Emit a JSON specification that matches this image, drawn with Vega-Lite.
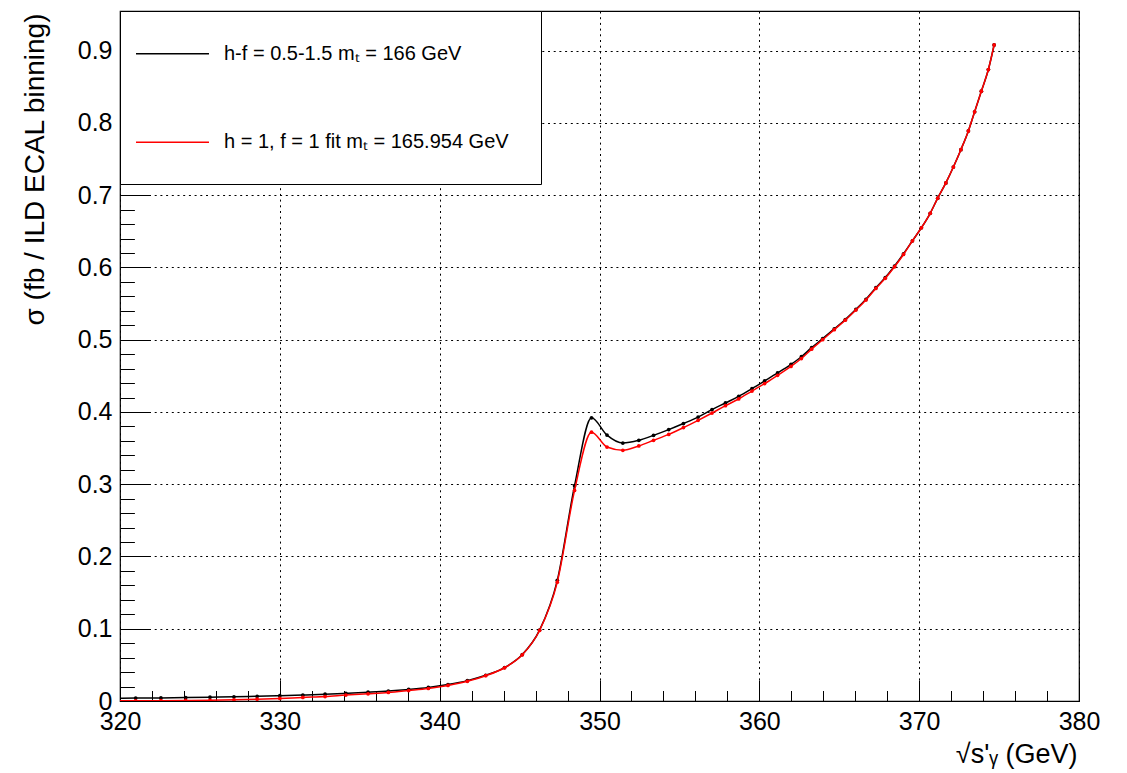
{
  "$schema": "https://vega.github.io/schema/vega-lite/v6.json",
  "width": 959,
  "height": 690,
  "autosize": {"type": "none"},
  "padding": {"left": 120, "top": 11, "right": 48, "bottom": 72},
  "background": "white",
  "config": {
    "font": "Liberation Sans",
    "view": {"stroke": "black", "strokeWidth": 1.2},
    "axis": {"domain": false, "labelColor": "black", "titleColor": "black", "tickColor": "black", "labelFont": "Liberation Sans", "titleFont": "Liberation Sans", "titleFontWeight": "normal"},
    "legend": {
      "orient": "none", "legendX": 0, "legendY": 0,
      "fillColor": "white", "strokeColor": "black", "padding": 31.75,
      "symbolType": "M-3.561,0H3.561", "symbolSize": 420, "symbolStrokeWidth": 1.5,
      "symbolOffset": 9.75, "labelOffset": 40.5, "rowPadding": 67.5,
      "labelFontSize": 20, "labelFont": "Liberation Sans", "labelColor": "black", "labelLimit": 0
    }
  },
  "data": {"values": [
    {"x":319.38,"y":0.0038,"c":"A"},{"x":320.98,"y":0.004,"c":"A"},{"x":322.56,"y":0.0043,"c":"A"},{"x":324.11,"y":0.0047,"c":"A"},{"x":325.63,"y":0.0052,"c":"A"},{"x":327.13,"y":0.0058,"c":"A"},{"x":328.58,"y":0.0065,"c":"A"},{"x":330.0,"y":0.0073,"c":"A"},{"x":331.44,"y":0.0083,"c":"A"},{"x":332.83,"y":0.0094,"c":"A"},{"x":334.13,"y":0.0107,"c":"A"},{"x":335.52,"y":0.0122,"c":"A"},{"x":336.79,"y":0.0138,"c":"A"},{"x":338.06,"y":0.016,"c":"A"},{"x":339.29,"y":0.0187,"c":"A"},{"x":340.52,"y":0.0228,"c":"A"},{"x":341.73,"y":0.0282,"c":"A"},{"x":342.88,"y":0.0356,"c":"A"},{"x":344.06,"y":0.0462,"c":"A"},{"x":345.17,"y":0.0642,"c":"A"},{"x":346.25,"y":0.098,"c":"A"},{"x":347.36,"y":0.167,"c":"A"},{"x":348.44,"y":0.298,"c":"A"},{"x":349.5,"y":0.392,"c":"A"},{"x":350.47,"y":0.368,"c":"A"},{"x":351.46,"y":0.357,"c":"A"},{"x":352.46,"y":0.3608,"c":"A"},{"x":353.38,"y":0.3677,"c":"A"},{"x":354.33,"y":0.3756,"c":"A"},{"x":355.25,"y":0.384,"c":"A"},{"x":356.17,"y":0.393,"c":"A"},{"x":357.04,"y":0.4033,"c":"A"},{"x":357.88,"y":0.4125,"c":"A"},{"x":358.71,"y":0.4217,"c":"A"},{"x":359.54,"y":0.4324,"c":"A"},{"x":360.33,"y":0.443,"c":"A"},{"x":361.14,"y":0.454,"c":"A"},{"x":361.98,"y":0.466,"c":"A"},{"x":362.63,"y":0.4765,"c":"A"},{"x":363.27,"y":0.489,"c":"A"},{"x":363.96,"y":0.5015,"c":"A"},{"x":364.69,"y":0.515,"c":"A"},{"x":365.38,"y":0.528,"c":"A"},{"x":366.04,"y":0.542,"c":"A"},{"x":366.67,"y":0.556,"c":"A"},{"x":367.29,"y":0.572,"c":"A"},{"x":367.88,"y":0.586,"c":"A"},{"x":368.46,"y":0.602,"c":"A"},{"x":369.02,"y":0.619,"c":"A"},{"x":369.58,"y":0.637,"c":"A"},{"x":370.14,"y":0.655,"c":"A"},{"x":370.69,"y":0.675,"c":"A"},{"x":371.16,"y":0.696,"c":"A"},{"x":371.67,"y":0.717,"c":"A"},{"x":372.14,"y":0.739,"c":"A"},{"x":372.61,"y":0.763,"c":"A"},{"x":373.08,"y":0.789,"c":"A"},{"x":373.47,"y":0.8155,"c":"A"},{"x":373.89,"y":0.844,"c":"A"},{"x":374.33,"y":0.874,"c":"A"},{"x":374.69,"y":0.908,"c":"A"},
    {"x":319.38,"y":0.0003,"c":"B"},{"x":320.98,"y":0.0003,"c":"B"},{"x":322.56,"y":0.0005,"c":"B"},{"x":324.11,"y":0.0007,"c":"B"},{"x":325.63,"y":0.001,"c":"B"},{"x":327.13,"y":0.0017,"c":"B"},{"x":328.58,"y":0.0025,"c":"B"},{"x":330.0,"y":0.0035,"c":"B"},{"x":331.44,"y":0.005,"c":"B"},{"x":332.83,"y":0.0062,"c":"B"},{"x":334.13,"y":0.0082,"c":"B"},{"x":335.52,"y":0.01,"c":"B"},{"x":336.79,"y":0.0118,"c":"B"},{"x":338.06,"y":0.0145,"c":"B"},{"x":339.29,"y":0.0173,"c":"B"},{"x":340.52,"y":0.0215,"c":"B"},{"x":341.73,"y":0.0272,"c":"B"},{"x":342.88,"y":0.035,"c":"B"},{"x":344.06,"y":0.046,"c":"B"},{"x":345.17,"y":0.064,"c":"B"},{"x":346.25,"y":0.0976,"c":"B"},{"x":347.36,"y":0.1645,"c":"B"},{"x":348.44,"y":0.2915,"c":"B"},{"x":349.5,"y":0.372,"c":"B"},{"x":350.47,"y":0.3515,"c":"B"},{"x":351.46,"y":0.347,"c":"B"},{"x":352.46,"y":0.353,"c":"B"},{"x":353.38,"y":0.3608,"c":"B"},{"x":354.33,"y":0.369,"c":"B"},{"x":355.25,"y":0.3784,"c":"B"},{"x":356.17,"y":0.3885,"c":"B"},{"x":357.04,"y":0.3986,"c":"B"},{"x":357.88,"y":0.4088,"c":"B"},{"x":358.71,"y":0.418,"c":"B"},{"x":359.54,"y":0.429,"c":"B"},{"x":360.33,"y":0.4393,"c":"B"},{"x":361.14,"y":0.4508,"c":"B"},{"x":361.98,"y":0.463,"c":"B"},{"x":362.63,"y":0.474,"c":"B"},{"x":363.27,"y":0.487,"c":"B"},{"x":363.96,"y":0.5,"c":"B"},{"x":364.69,"y":0.514,"c":"B"},{"x":365.38,"y":0.527,"c":"B"},{"x":366.04,"y":0.541,"c":"B"},{"x":366.67,"y":0.555,"c":"B"},{"x":367.29,"y":0.571,"c":"B"},{"x":367.88,"y":0.585,"c":"B"},{"x":368.46,"y":0.601,"c":"B"},{"x":369.02,"y":0.618,"c":"B"},{"x":369.58,"y":0.637,"c":"B"},{"x":370.14,"y":0.655,"c":"B"},{"x":370.69,"y":0.675,"c":"B"},{"x":371.16,"y":0.696,"c":"B"},{"x":371.67,"y":0.717,"c":"B"},{"x":372.14,"y":0.739,"c":"B"},{"x":372.61,"y":0.763,"c":"B"},{"x":373.08,"y":0.789,"c":"B"},{"x":373.47,"y":0.8155,"c":"B"},{"x":373.89,"y":0.844,"c":"B"},{"x":374.33,"y":0.874,"c":"B"},{"x":374.69,"y":0.908,"c":"B"}
  ]},
  "layer": [
    {
      "transform": [{"filter": "datum.c == 'A'"}],
      "mark": {"type": "line", "interpolate": "monotone", "strokeWidth": 1.5, "clip": true},
      "encoding": {
        "x": {"field": "x", "type": "quantitative",
          "scale": {"domain": [320, 380], "nice": false, "zero": false},
          "axis": {"orient": "bottom", "values": [320, 330, 340, 350, 360, 370, 380], "ticks": false, "labels": true,
            "labelFontSize": 25, "labelPadding": 8, "labelFlush": false, "labelOverlap": false, "labelBound": false,
            "grid": true, "gridColor": "black", "gridDash": [2, 3.7], "gridWidth": 1, "gridOpacity": 1,
            "title": "√s'ᵧ (GeV)", "titleFontSize": 27, "titleAnchor": "end", "titleAlign": "right",
            "titleBaseline": "alphabetic", "titleX": 957, "titleY": 61}},
        "y": {"field": "y", "type": "quantitative",
          "scale": {"domain": [0, 0.955], "nice": false, "zero": false},
          "axis": {"orient": "left", "values": [0, 0.1, 0.2, 0.3, 0.4, 0.5, 0.6, 0.7, 0.8, 0.9], "ticks": false,
            "labelFontSize": 25, "labelPadding": 8, "labelFlush": false, "labelOverlap": false, "labelBound": false,
            "labelExpr": "datum.value == 0 ? '0' : format(datum.value, '.1f')",
            "grid": true, "gridColor": "black", "gridDash": [2, 3.7], "gridWidth": 1, "gridOpacity": 1,
            "title": "σ (fb / ILD ECAL binning)", "titleFontSize": 28, "titleAngle": -90, "titleAlign": "right",
            "titleBaseline": "alphabetic", "titleX": -77, "titleY": 2}},
        "color": {"field": "c", "type": "nominal",
          "scale": {"domain": ["A", "B"], "range": ["#000000", "#ff0000"]},
          "legend": {"title": null,
            "labelExpr": "datum.label == 'A' ? 'h-f = 0.5-1.5 mₜ = 166 GeV' : 'h = 1, f = 1 fit mₜ = 165.954 GeV'"}}
      }
    },
    {
      "transform": [{"filter": "datum.c == 'A'"}],
      "mark": {"type": "point", "filled": true, "size": 14, "color": "#000000", "opacity": 1, "clip": true},
      "encoding": {
        "x": {"field": "x", "type": "quantitative",
          "axis": {"orient": "bottom", "values": [320, 330, 340, 350, 360, 370, 380], "labels": false, "grid": false,
            "ticks": true, "tickSize": -21, "tickWidth": 1, "title": null}},
        "y": {"field": "y", "type": "quantitative",
          "axis": {"orient": "left", "values": [0, 0.1, 0.2, 0.3, 0.4, 0.5, 0.6, 0.7, 0.8, 0.9], "labels": false, "grid": false,
            "ticks": true, "tickSize": -29, "tickWidth": 1, "title": null}}
      }
    },
    {
      "transform": [{"filter": "datum.c == 'B'"}],
      "mark": {"type": "line", "interpolate": "monotone", "strokeWidth": 1.5, "clip": true},
      "encoding": {
        "x": {"field": "x", "type": "quantitative",
          "axis": {"orient": "bottom", "values": [322, 324, 326, 328, 332, 334, 336, 338, 342, 344, 346, 348, 352, 354, 356, 358, 362, 364, 366, 368, 372, 374, 376, 378],
            "labels": false, "grid": false, "ticks": true, "tickSize": -10.5, "tickWidth": 1, "title": null}},
        "y": {"field": "y", "type": "quantitative",
          "axis": {"orient": "left", "values": [0.02, 0.04, 0.06, 0.08, 0.12, 0.14, 0.16, 0.18, 0.22, 0.24, 0.26, 0.28, 0.32, 0.34, 0.36, 0.38, 0.42, 0.44, 0.46, 0.48, 0.52, 0.54, 0.56, 0.58, 0.62, 0.64, 0.66, 0.68, 0.72, 0.74, 0.76, 0.78, 0.82, 0.84, 0.86, 0.88, 0.92, 0.94],
            "labels": false, "grid": false, "ticks": true, "tickSize": -14.4, "tickWidth": 1, "title": null}},
        "color": {"field": "c", "type": "nominal"}
      }
    },
    {
      "transform": [{"filter": "datum.c == 'B'"}],
      "mark": {"type": "point", "filled": true, "size": 14, "color": "#ff0000", "opacity": 1, "clip": true},
      "encoding": {
        "x": {"field": "x", "type": "quantitative", "axis": null},
        "y": {"field": "y", "type": "quantitative", "axis": null}
      }
    }
  ],
  "resolve": {"axis": {"x": "independent", "y": "independent"}}
}
